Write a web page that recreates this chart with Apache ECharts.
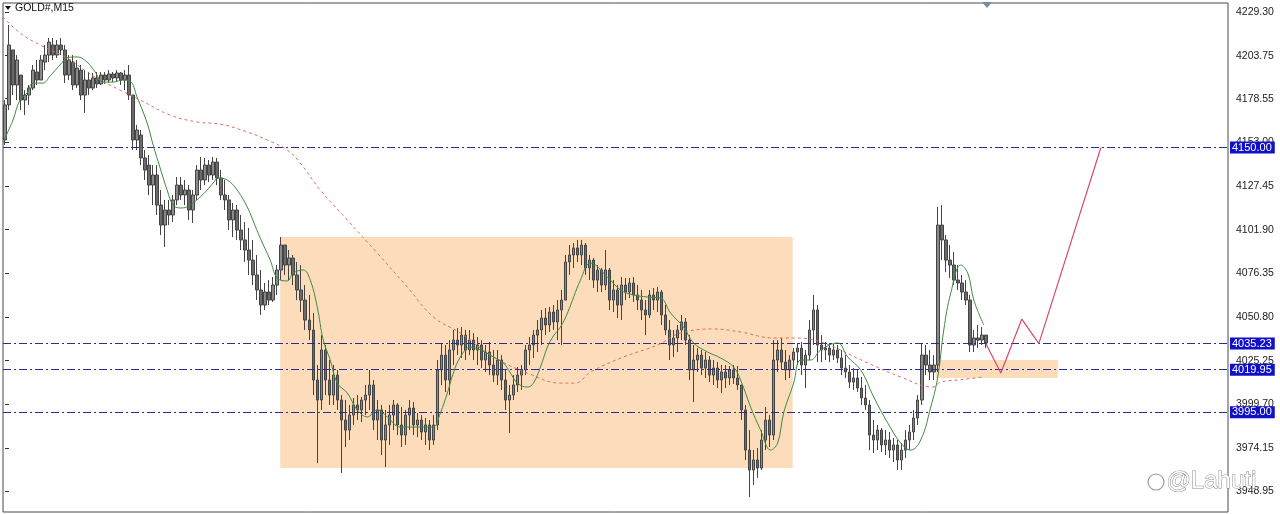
<!DOCTYPE html>
<html><head><meta charset="utf-8">
<script src="https://cdn.jsdelivr.net/npm/echarts@6/dist/echarts.min.js"></script>
<style>html,body{margin:0;padding:0;background:#fff}#c{width:1280px;height:514px}</style>
</head><body><div id="c"></div>
<script>
// ---- data (prices), one bar per M15 slot ----
const opens = [
4154.4,4174.9,4207.1,4186.6,4192.4,4177.8,4180.7,4184.8,4194.2,4189.5,
4200.0,4204.1,4210.0,4204.1,4210.0,4207.1,4192.4,4200.0,4186.6,4195.3,
4180.7,4189.5,4184.8,4190.7,4187.2,4192.4,4189.5,4193.0,4190.7,4193.6,
4189.5,4192.4,4180.7,4154.4,4157.3,4143.9,4139.7,4128.0,4133.9,4116.3,
4104.6,4113.4,4110.5,4119.3,4128.0,4122.2,4125.1,4113.4,4122.2,4136.8,
4131.0,4139.7,4133.9,4141.5,4132.1,4122.2,4119.3,4107.6,4113.4,4101.7,
4095.9,4090.0,4084.1,4075.4,4066.6,4057.8,4065.4,4060.7,4069.5,4078.3,
4092.9,4081.2,4085.3,4075.4,4066.6,4060.7,4049.0,4043.2,4013.9,4002.2,
4031.5,4013.9,4005.1,4016.8,4002.2,3990.5,3984.6,3993.4,3999.3,3996.4,
4002.2,4005.1,4011.0,3990.5,3996.4,3978.8,3987.6,3993.4,3999.3,3987.6,
3981.7,3993.4,3997.5,3987.6,3990.5,3983.5,3987.6,3978.8,3987.6,4019.8,
4028.5,4013.9,4031.5,4037.3,4034.4,4040.2,4031.5,4037.3,4031.5,4034.4,
4025.6,4030.3,4022.7,4016.8,4025.6,4013.9,4002.2,4005.1,4011.0,4016.8,
4019.8,4031.5,4034.4,4040.2,4043.2,4050.2,4046.1,4053.7,4047.9,4054.9,
4060.7,4083.0,4087.1,4091.2,4087.1,4092.9,4079.5,4084.1,4072.4,4078.3,
4069.5,4078.3,4060.7,4066.6,4057.8,4069.5,4065.4,4070.7,4063.7,4060.7,
4054.9,4052.0,4063.7,4060.7,4065.4,4052.0,4043.2,4034.4,4038.5,4043.2,
4047.9,4037.3,4019.8,4025.6,4028.5,4020.9,4025.6,4016.8,4020.9,4013.9,
4018.6,4015.1,4019.8,4015.1,4011.0,3996.4,3972.9,3961.2,3967.1,3962.4,
3978.8,3990.5,3981.7,4025.6,4031.5,4024.4,4019.8,4025.6,4030.3,4032.6,
4022.7,4028.5,4043.2,4054.9,4034.4,4031.5,4032.6,4028.5,4031.5,4026.8,
4020.9,4018.6,4012.7,4015.1,4009.2,4003.4,3999.3,3981.7,3978.8,3984.6,
3975.9,3978.8,3972.9,3975.9,3967.1,3972.9,3978.8,3983.5,3991.7,4002.2,
4028.5,4022.7,4018.6,4022.7,4104.6,4095.9,4084.1,4081.2,4072.4,4070.7,
4065.4,4060.7,4034.4,4038.5,4037.3,4040.2];
const closes = [
4174.9,4210.0,4186.6,4201.2,4177.8,4180.7,4184.8,4195.3,4189.5,4201.2,
4204.1,4211.7,4204.1,4210.0,4207.1,4192.4,4201.2,4186.6,4196.5,4180.7,
4189.5,4184.8,4190.7,4187.2,4192.4,4189.5,4193.0,4190.7,4193.6,4189.5,
4192.4,4180.7,4154.4,4160.2,4143.9,4136.8,4128.0,4133.9,4116.3,4104.6,
4113.4,4110.5,4119.3,4128.0,4122.2,4125.1,4113.4,4122.2,4136.8,4131.0,
4139.7,4133.9,4141.5,4132.1,4122.2,4119.3,4107.6,4113.4,4101.7,4095.9,
4090.0,4084.1,4075.4,4066.6,4057.8,4065.4,4060.7,4069.5,4078.3,4092.9,
4081.2,4085.3,4075.4,4066.6,4060.7,4049.0,4043.2,4013.9,4002.2,4031.5,
4013.9,4005.1,4016.8,4002.2,3990.5,3984.6,3993.4,3999.3,3996.4,4002.2,
4005.1,4011.0,3990.5,3996.4,3978.8,3987.6,3993.4,3999.3,3987.6,3981.7,
3993.4,3997.5,3987.6,3990.5,3983.5,3987.6,3978.8,3987.6,4019.8,4028.5,
4013.9,4031.5,4037.3,4034.4,4040.2,4031.5,4037.3,4031.5,4034.4,4025.6,
4030.3,4022.7,4016.8,4025.6,4013.9,4002.2,4005.1,4011.0,4016.8,4019.8,
4031.5,4034.4,4040.2,4043.2,4050.2,4046.1,4053.7,4047.9,4054.9,4060.7,
4083.0,4087.1,4091.2,4087.1,4092.9,4079.5,4084.1,4072.4,4078.3,4069.5,
4078.3,4060.7,4066.6,4057.8,4069.5,4065.4,4070.7,4063.7,4060.7,4054.9,
4052.0,4063.7,4060.7,4065.4,4052.0,4043.2,4034.4,4038.5,4043.2,4047.9,
4037.3,4019.8,4025.6,4028.5,4020.9,4025.6,4016.8,4020.9,4013.9,4018.6,
4015.1,4019.8,4015.1,4011.0,3996.4,3972.9,3961.2,3967.1,3962.4,3978.8,
3990.5,3981.7,4025.6,4031.5,4024.4,4019.8,4025.6,4030.3,4032.6,4022.7,
4028.5,4043.2,4054.9,4034.4,4031.5,4032.6,4028.5,4031.5,4026.8,4020.9,
4018.6,4012.7,4015.1,4009.2,4003.4,3999.3,3981.7,3978.8,3984.6,3975.9,
3978.8,3972.9,3975.9,3967.1,3972.9,3978.8,3983.5,3991.7,4002.2,4028.5,
4022.7,4018.6,4022.7,4104.6,4095.9,4084.1,4081.2,4072.4,4070.7,4065.4,
4060.7,4034.4,4038.5,4037.3,4040.2,4035.6];
const lows = [
4151.5,4171.9,4180.7,4177.8,4171.9,4169.0,4174.9,4183.6,4186.6,4189.5,
4195.3,4200.0,4201.2,4202.4,4204.1,4187.7,4189.5,4183.6,4184.8,4177.8,
4170.2,4180.7,4183.6,4184.8,4186.6,4187.2,4187.7,4188.3,4188.3,4186.6,
4183.6,4177.8,4148.5,4148.5,4139.7,4131.0,4122.2,4116.3,4110.5,4098.8,
4091.8,4104.6,4106.4,4116.3,4119.3,4116.3,4107.6,4105.8,4119.3,4125.1,
4128.0,4129.8,4131.0,4128.0,4119.3,4113.4,4101.7,4097.6,4095.9,4090.0,
4083.0,4075.4,4069.5,4060.7,4052.0,4054.9,4057.8,4059.6,4063.7,4072.4,
4075.4,4072.4,4069.5,4060.7,4053.7,4043.2,4037.3,4005.1,3965.3,3996.4,
4005.1,3999.3,3999.3,3996.4,3959.5,3974.7,3978.8,3987.6,3990.5,3989.3,
3993.4,3996.4,3984.6,3978.8,3970.0,3963.0,3975.9,3984.6,3981.7,3974.7,
3975.9,3984.6,3981.7,3980.5,3978.8,3975.9,3972.9,3975.9,3984.6,4011.0,
4006.9,4005.1,4022.7,4028.5,4026.8,4025.6,4028.5,4025.6,4022.7,4020.9,
4018.6,4016.8,4012.7,4011.0,4008.1,3996.4,3982.9,4002.2,4006.9,4008.1,
4016.8,4022.7,4026.8,4030.3,4034.4,4040.2,4042.0,4043.2,4037.3,4034.4,
4060.7,4075.4,4079.5,4083.0,4081.2,4075.4,4072.4,4067.8,4065.4,4065.4,
4066.6,4054.9,4053.7,4050.2,4049.0,4060.7,4061.9,4059.6,4054.9,4049.0,
4040.2,4050.2,4054.9,4053.7,4046.1,4040.2,4025.6,4027.4,4030.3,4037.3,
4034.4,4013.9,4001.0,4018.6,4016.8,4015.1,4012.7,4011.0,4009.2,4006.3,
4009.2,4011.0,4011.6,4008.1,3990.5,3967.1,3945.4,3952.5,3956.6,3961.2,
3972.9,3974.7,3978.8,4018.6,4019.8,4013.9,4015.1,4019.8,4022.7,4016.8,
4009.2,4025.6,4034.4,4024.4,4024.4,4025.6,4024.4,4025.6,4023.9,4016.8,
4015.1,4009.2,4008.1,4006.9,3999.3,3996.4,3972.9,3971.2,3972.9,3971.8,
3970.0,3968.3,3965.9,3961.2,3961.2,3968.3,3972.9,3978.8,3987.6,3999.3,
4016.8,4013.9,4013.9,4018.6,4084.1,4077.1,4073.6,4069.5,4066.6,4060.7,
4057.8,4030.3,4030.3,4032.6,4034.4,4032.6];
const highs = [
4177.8,4221.7,4207.1,4204.1,4192.4,4183.6,4186.6,4198.3,4201.2,4204.1,
4210.0,4214.1,4214.1,4212.9,4214.1,4210.0,4204.1,4204.1,4201.2,4198.3,
4195.3,4194.2,4193.6,4194.2,4194.2,4194.2,4195.3,4194.2,4195.3,4194.2,
4195.3,4198.3,4180.7,4163.2,4160.2,4148.5,4145.6,4139.7,4139.7,4125.1,
4119.3,4119.3,4122.2,4132.7,4132.7,4131.0,4128.0,4125.1,4139.7,4144.4,
4143.9,4142.7,4144.4,4143.9,4136.8,4131.0,4122.2,4117.5,4116.3,4110.5,
4106.4,4102.9,4095.9,4087.1,4078.3,4070.7,4072.4,4074.2,4081.2,4097.6,
4092.9,4090.0,4087.1,4083.0,4081.2,4069.5,4063.7,4053.1,4022.7,4040.2,
4034.4,4025.6,4022.7,4019.8,4005.1,4002.2,3999.3,4003.4,4005.1,4004.0,
4011.0,4019.8,4013.9,4002.2,3999.3,3996.4,3999.3,4002.2,4000.4,3998.1,
3996.4,4002.2,4001.0,3994.6,3993.4,3991.7,3990.5,3993.4,4025.6,4035.6,
4034.4,4037.3,4043.2,4044.3,4044.9,4043.2,4043.2,4041.4,4039.1,4037.3,
4034.4,4036.2,4031.5,4031.5,4028.5,4019.8,4011.0,4016.8,4021.5,4022.7,
4034.4,4039.1,4043.2,4049.0,4054.9,4056.0,4056.6,4057.8,4060.7,4066.6,
4087.1,4092.9,4094.1,4095.9,4095.9,4094.1,4087.1,4085.3,4081.2,4079.5,
4090.0,4079.5,4072.4,4069.5,4074.2,4073.6,4073.6,4074.2,4069.5,4066.6,
4060.7,4066.6,4067.8,4068.3,4066.6,4057.8,4049.0,4043.2,4046.1,4052.0,
4050.2,4040.2,4034.4,4032.6,4031.5,4030.3,4028.0,4025.6,4024.4,4022.7,
4022.7,4022.1,4022.7,4022.1,4011.0,3999.3,3984.6,3972.9,3974.1,3984.6,
3998.1,3993.4,4037.3,4037.3,4038.5,4031.5,4028.5,4032.6,4035.6,4036.2,
4031.5,4049.0,4063.7,4057.8,4040.2,4036.2,4035.6,4035.0,4034.4,4031.5,
4028.5,4022.7,4020.9,4019.8,4015.7,4011.0,4002.2,3990.5,3987.6,3985.8,
3984.6,3983.5,3980.0,3978.8,3977.0,3984.6,3987.6,3996.4,4005.1,4035.6,
4034.4,4031.5,4028.5,4115.2,4116.3,4098.8,4092.9,4088.8,4081.2,4075.4,
4072.4,4063.7,4043.2,4046.1,4044.9,4040.2];

// fast moving average (green), sampled at bar positions
const fastMaBar = [-0.5,1.25,2,3.75,5.5,7,9.5,11.25,13.75,15.5,18,20.5,22.5,24.5,27,29.5,31.25,33,35.5,37,38.75,40.5,42,43.75,45.5,47,48.75,50.5,52,53.25,55.5,58,60.5,62,63.75,66.25,68,70.5,72,74.5,76.25,78,79.5,81.25,83,85.5,88,90.5,93,95.5,98.75,102,105.5,107,108.75,110.5,112,113.75,116.25,118.75,122,124.5,126.25,128,130.5,132,133.75,135.5,137,138.75,140.5,143.75,146.25,150.5,153.75,157,160.5,163.75,166.25,169.5,172,175.5,178.75,182,183.75,186.25,188.75,191.25,193,194.5,197,198.75,201.25,203.75,208,210.5,213.75,217,220.5,223.75,226.25,228.75,231.25,233,234.5,236.25,238.75,240.5,242,244.5];
const fastMa = [4152.6,4162.0,4166.1,4177.8,4181.9,4187.7,4187.7,4191.8,4198.3,4202.4,4203.0,4200.0,4194.2,4188.3,4188.3,4189.5,4188.9,4179.5,4164.3,4151.5,4138.0,4125.1,4116.3,4114.6,4115.2,4117.5,4121.0,4125.1,4129.2,4132.1,4131.0,4125.1,4115.2,4107.0,4097.0,4084.1,4073.6,4071.9,4076.5,4078.3,4072.4,4056.6,4037.3,4025.6,4012.1,4006.3,3996.4,3992.3,3996.4,3992.3,3986.4,3986.4,3986.4,3986.4,3994.6,4006.3,4018.0,4027.4,4033.2,4031.5,4027.4,4023.9,4018.0,4012.1,4009.8,4012.1,4021.5,4033.2,4039.7,4044.9,4053.1,4072.4,4082.4,4074.2,4066.6,4063.7,4062.5,4061.9,4053.1,4044.9,4035.6,4030.3,4026.8,4021.5,4013.9,3998.1,3984.6,3972.9,3977.0,3994.6,4012.1,4025.6,4025.6,4031.5,4035.6,4027.4,4019.8,4004.0,3988.8,3977.0,3972.9,3978.8,3998.1,4015.7,4043.2,4064.8,4081.2,4076.5,4060.7,4046.1];

// slow moving average (red dotted)
const slowMaBar = [-0.5,3.75,8.75,15.5,20.5,23.75,28.75,33.75,41.25,48,53.75,60.5,65.5,70.5,73.75,78.75,85.5,93,100.5,107,113.75,122,130.5,138.75,142.5,146.25,154.5,163,168.75,177,183.75,192,197,203.75,215.5,223.75,231.75,233.75,238.75,244.5];
const slowMa = [4226.4,4217.0,4210.0,4202.4,4194.2,4189.5,4183.6,4177.8,4169.0,4164.9,4163.7,4159.1,4154.4,4148.5,4140.9,4125.1,4107.6,4088.2,4068.3,4050.8,4041.4,4027.4,4018.0,4012.1,4012.1,4018.6,4027.4,4034.4,4041.4,4043.8,4042.0,4038.5,4038.5,4036.2,4023.9,4015.7,4009.8,4012.7,4014.1,4015.7];

// projected path (pink)
const projBar = [245, 248.75, 254, 258.25, 273.75];
const projVal = [4035.23, 4018.0, 4049.6, 4035.23, 4150.0];

// horizontal levels
const levels = [4150.00, 4035.23, 4019.95, 3995.00];
// zones [startBar, endBar, top, bottom]
const zones = [[68.75, 196.75, 4097.6, 3962.4],[232.5, 263, 4025.6, 4015.1]];
// price scale tick labels
const tickValues = [4229.30,4203.75,4178.55,4153.00,4127.45,4101.90,4076.35,4050.80,4025.25,3999.70,3974.15,3948.95];
const symbolName = 'GOLD#,M15';
// ------------------------------------------------------------------

const SLOTS = 306;
const cats = Array.from({length: SLOTS}, (_, i) => String(i));
const candles = opens.map((o, i) => [o, closes[i], lows[i], highs[i]]);
const pairs = (a, b) => a.map((x, i) => [x, b[i]]);
const F = 'Liberation Sans, Arial, sans-serif';

const chart = echarts.init(document.getElementById('c'), null, {renderer: 'canvas'});
chart.setOption({
  animation: false,
  grid: {left: 3, top: 3, right: 52, bottom: 2, show: true, borderColor: '#4a4a4a', borderWidth: 1},
  xAxis: [
    {type: 'category', data: cats, boundaryGap: true, show: false},
    {type: 'value', min: -0.5, max: SLOTS - 0.5, show: false}
  ],
  yAxis: {
    type: 'value', position: 'right', min: 3936.66, max: 4234.57, scale: true,
    splitLine: {show: false}, axisLine: {show: false},
    axisTick: {show: true, inside: false, length: 4, customValues: tickValues, lineStyle: {color: '#333'}},
    axisLabel: {customValues: tickValues, formatter: v => v.toFixed(2), fontSize: 10.5, color: '#222', fontFamily: F, margin: 8}
  },
  series: [
    {
      type: 'line', xAxisIndex: 1, data: [], silent: true, z: 1,
      markArea: {
        silent: true, itemStyle: {color: '#fcdcbb'},
        data: zones.map(z => [{xAxis: z[0], yAxis: z[2]}, {xAxis: z[1], yAxis: z[3]}])
      }
    },
    {
      type: 'candlestick', xAxisIndex: 0, data: candles, barWidth: 3, z: 3,
      itemStyle: {color: '#8a8a8a', color0: '#6a6a6a', borderColor: '#444', borderColor0: '#444', borderWidth: 1}
    },
    {
      type: 'line', xAxisIndex: 1, data: [], silent: true, z: 4,
      markLine: {
        silent: true, symbol: ['none', 'none'],
        lineStyle: {color: '#2a2a96', width: 1, type: [8, 3, 2, 3]},
        label: {show: true, position: 'end', distance: 2, formatter: p => p.value.toFixed(2),
          backgroundColor: '#1010c8', color: '#fff', fontSize: 11, fontFamily: F, padding: [1, 3, 0, 2]},
        data: levels.map(v => ({yAxis: v}))
      }
    },
    {
      type: 'line', xAxisIndex: 1, data: pairs(slowMaBar, slowMa), smooth: 0.4, symbol: 'none', z: 5,
      lineStyle: {color: '#d9705f', width: 1, type: [3, 3]}
    },
    {
      type: 'line', xAxisIndex: 1, data: pairs(fastMaBar, fastMa), smooth: 0.4, symbol: 'none', z: 6,
      lineStyle: {color: '#3f8a3f', width: 1}
    },
    {
      type: 'line', xAxisIndex: 1, data: pairs(projBar, projVal), symbol: 'none', z: 7,
      lineStyle: {color: '#d64a6e', width: 1.2}
    }
  ],
  graphic: [
    {type: 'polygon', shape: {points: [[5, 6], [11, 6], [8, 10]]}, style: {fill: '#111'}},
    {type: 'text', left: 15, top: 3, style: {text: symbolName, font: '10.5px ' + F, fill: '#111'}},
    {type: 'polygon', shape: {points: [[982, 2], [992, 2], [987, 8]]}, style: {fill: '#7d8b99'}},
    {type: 'circle', shape: {cx: 1156, cy: 482, r: 8}, style: {fill: 'none', stroke: '#999', lineWidth: 1.2}, z: 100},
    {type: 'text', left: 1166, top: 469, z: 100,
      style: {text: '@Lahuti', font: '24px ' + F, fill: '#fff', stroke: '#8a8a8a', lineWidth: 1}}
  ]
});
</script>
</body></html>
